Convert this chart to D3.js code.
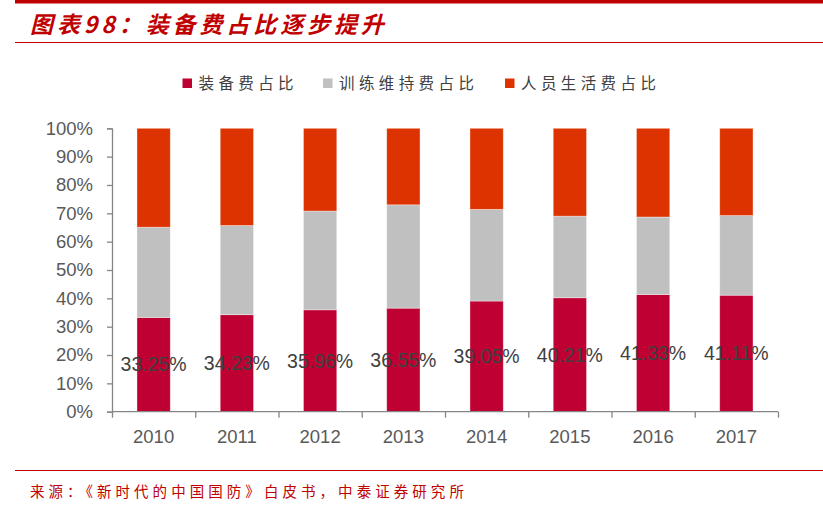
<!DOCTYPE html>
<html>
<head>
<meta charset="utf-8">
<script src="https://cdn.jsdelivr.net/npm/d3@7"></script>
<style>
  body { margin: 0; background: #fff; }
  svg { display: block; }
</style>
</head>
<body>
<div class="canvas"></div>
<script>
// data (percent of total)
const years = ['2010', '2011', '2012', '2013', '2014', '2015', '2016', '2017'];
const equipment = [33.25, 34.23, 35.96, 36.55, 39.05, 40.21, 41.33, 41.11];
const training = [31.85, 31.47, 34.84, 36.45, 32.35, 28.79, 27.37, 28.09];
const personnel = [34.9, 34.3, 29.2, 27.0, 28.6, 31.0, 31.3, 30.8];
const seriesNames = ['装备费占比', '训练维持费占比', '人员生活费占比'];
const yTicks = [0, 10, 20, 30, 40, 50, 60, 70, 80, 90, 100];

const colors = ['#BE0032', '#C0C0C0', '#DC3300'];
const numFont = '"Liberation Sans", Arial, sans-serif';
const cjkFont = '"Noto Sans CJK SC", sans-serif';

const W = 823, H = 514;
const margin = {left: 112, top: 128.3, right: 45, bottom: 102.3};
const w = W - margin.left - margin.right;
const h = H - margin.top - margin.bottom;

const svg = d3.select('.canvas')
  .append('svg')
  .attr('width', W)
  .attr('height', H);

// header
svg.append('rect')
  .attr('x', 15).attr('y', 0)
  .attr('width', 808).attr('height', 3.5)
  .attr('fill', '#C00000');

svg.append('text')
  .attr('x', 30).attr('y', 33)
  .attr('font-family', cjkFont)
  .attr('font-size', 23)
  .attr('font-weight', 'bold')
  .attr('font-style', 'italic')
  .attr('letter-spacing', 3.9)
  .attr('fill', '#C00000')
  .text('图表98：装备费占比逐步提升');

svg.append('line')
  .attr('x1', 15).attr('x2', 823)
  .attr('y1', 42.5).attr('y2', 42.5)
  .attr('stroke', '#C00000')
  .attr('stroke-width', 1.2);

// footer
svg.append('line')
  .attr('x1', 15).attr('x2', 823)
  .attr('y1', 470.5).attr('y2', 470.5)
  .attr('stroke', '#C00000')
  .attr('stroke-width', 1.2);

svg.append('text')
  .attr('x', 30).attr('y', 497)
  .attr('font-family', cjkFont)
  .attr('font-size', 14.5)
  .attr('letter-spacing', 4.05)
  .attr('fill', '#C00000')
  .text('来源：《新时代的中国国防》白皮书，中泰证券研究所');

// legend
const legendX = [182.5, 323, 505];
const legend = svg.append('g');
seriesNames.forEach((name, i) => {
  legend.append('rect')
    .attr('x', legendX[i]).attr('y', 78.5)
    .attr('width', 9.5).attr('height', 9.5)
    .attr('fill', colors[i]);
  legend.append('text')
    .attr('x', legendX[i] + 16).attr('y', 89)
    .attr('font-family', cjkFont)
    .attr('font-size', 15.5)
    .attr('letter-spacing', 4.4)
    .attr('fill', '#404040')
    .text(name);
});

// chart
const graph = svg.append('g')
  .attr('transform', `translate(${margin.left}, ${margin.top})`);

const x = d3.scaleBand()
  .domain(years)
  .range([0, w])
  .paddingInner(0.6)
  .paddingOuter(0.3);

const y = d3.scaleLinear()
  .domain([0, 100])
  .range([h, 0]);

const table = years.map((yr, i) => ({
  year: yr,
  equipment: equipment[i],
  training: training[i],
  personnel: personnel[i]
}));

const keys = ['equipment', 'training', 'personnel'];
const stacked = d3.stack().keys(keys)(table);

graph.selectAll('g.layer')
  .data(stacked)
  .enter()
  .append('g')
  .attr('class', 'layer')
  .attr('fill', (d, i) => colors[i])
  .selectAll('rect')
  .data(d => d)
  .enter()
  .append('rect')
  .attr('x', d => x(d.data.year))
  .attr('y', d => y(Math.min(d[1], 100)))
  .attr('width', x.bandwidth())
  .attr('height', d => y(d[0]) - y(Math.min(d[1], 100)))
  .attr('stroke', 'rgba(255,255,255,0.45)')
  .attr('stroke-width', 0.8);

// axes
const yAxis = graph.append('g')
  .call(d3.axisLeft(y)
    .tickValues(yTicks)
    .tickFormat(d => d + '%')
    .tickSize(5)
    .tickPadding(14));

const xAxisScale = d3.scalePoint().domain(d3.range(years.length + 1)).range([0, w]);
const xTicks = graph.append('g')
  .attr('transform', `translate(0, ${h})`)
  .call(d3.axisBottom(xAxisScale).tickSize(6).tickFormat(''));

[yAxis, xTicks].forEach(a => {
  a.select('.domain').attr('stroke', '#868686').attr('stroke-width', 1.3);
  a.selectAll('.tick line').attr('stroke', '#868686').attr('stroke-width', 1.3);
});
xTicks.select('.domain').attr('d', `M0,0H${w}`);

yAxis.selectAll('.tick text')
  .attr('font-family', numFont)
  .attr('font-size', 18.5)
  .attr('fill', '#595959');

graph.append('g')
  .selectAll('text')
  .data(years)
  .enter()
  .append('text')
  .attr('x', d => x(d) + x.bandwidth() / 2)
  .attr('y', h + 31)
  .attr('text-anchor', 'middle')
  .attr('font-family', numFont)
  .attr('font-size', 18.5)
  .attr('fill', '#595959')
  .text(d => d);

// value labels centred on the equipment segment
graph.append('g')
  .selectAll('text')
  .data(table)
  .enter()
  .append('text')
  .attr('x', d => x(d.year) + x.bandwidth() / 2)
  .attr('y', d => y(d.equipment / 2))
  .attr('dy', '0.35em')
  .attr('text-anchor', 'middle')
  .attr('font-family', numFont)
  .attr('font-size', 19.5)
  .attr('fill', '#404040')
  .text(d => d.equipment.toFixed(2) + '%');
</script>
</body>
</html>
